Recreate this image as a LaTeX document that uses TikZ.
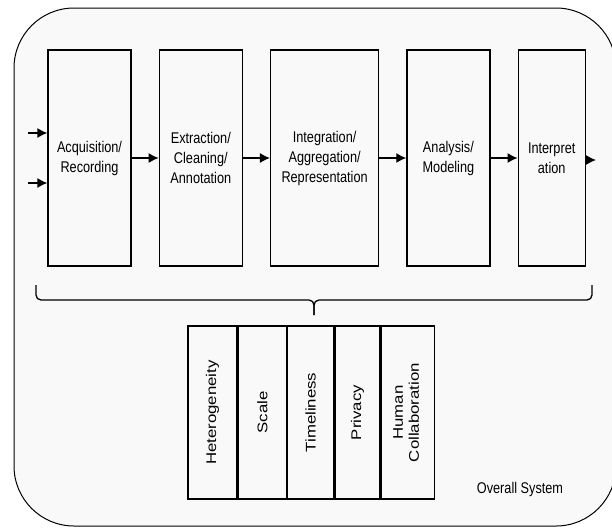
\documentclass[tikz,border=0pt]{standalone}
\usepackage{fontspec}
\setmainfont{Liberation Sans}
\newfontfamily\stagefont[FakeStretch=0.82]{Liberation Sans}
\newfontfamily\issuefont[FakeStretch=1.2]{Liberation Sans}
\usepackage{tikz}
\usetikzlibrary{positioning, arrows, arrows.meta}

\begin{document}
\begin{tikzpicture}[
		x=1pt, y=-1pt,
		every node/.style={font=\stagefont\fontsize{15.5}{20}\selectfont, inner sep=0pt},
		stage/.style={draw, line width=1.3pt, minimum height=216pt, align=center},
		issue/.style={draw, line width=1.3pt, minimum height=173pt, font=\issuefont\fontsize{14}{16}\selectfont},
		flow/.style={draw, line width=1.3pt, -{Latex[length=10pt, width=10pt]}}
	]
	\useasboundingbox (0,0) rectangle (612,528);

	% Overall system frame
	\draw[fill=gray!5, line width=1pt, rounded corners=60pt] (14,8) rectangle (616,526);

	\node[stage, minimum width=83pt] (Acquisition) at (89.5,158) {Acquisition/\\Recording};
	\node[stage, minimum width=83pt, right=27pt of Acquisition] (Extraction) {Extraction/\\Cleaning/\\Annotation};
	\node[stage, minimum width=108pt, right=27pt of Extraction] (Integration) {Integration/\\Aggregation/\\Representation};
	\node[stage, minimum width=83pt, right=27pt of Integration] (Analysis) {Analysis/\\Modeling};
	\node[stage, minimum width=67pt, right=27pt of Analysis] (Interpretation) {Interpret\\ation};

	\coordinate (InA) at (28,133);
	\coordinate (InB) at (28,183);
	\coordinate (Out) at (596,160);

	% Add arrows for the pipeline
	\draw[flow] (InA) -- (InA -| Acquisition.west);
	\draw[flow] (InB) -- (InB -| Acquisition.west);
	\draw[flow] (Acquisition) -- (Extraction);
	\draw[flow] (Extraction) -- (Integration);
	\draw[flow] (Integration) -- (Analysis);
	\draw[flow] (Analysis) -- (Interpretation);
	\draw[flow] (Interpretation.east |- Out) -- (Out);

	% Brace over the challenges
	\coordinate (BraceL) at (36,285);
	\coordinate (BraceR) at (592,285);
	\coordinate (BraceTip) at (314,315);
	\draw[line width=1.3pt, rounded corners=5pt] (BraceL) -- (36,300) -- (314,300) -- (BraceTip);
	\draw[line width=1.3pt, rounded corners=5pt] (BraceR) -- (592,300) -- (314,300) -- (BraceTip);

	\node[issue, minimum width=49pt] (Heterogeneity) at (212.5,412.5) {\rotatebox{90}{Heterogeneity}};
	\node[issue, minimum width=48pt, right=0pt of Heterogeneity] (Scale) {\rotatebox{90}{Scale}};
	\node[issue, minimum width=46pt, right=0pt of Scale] (Timeliness) {\rotatebox{90}{Timeliness}};
	\node[issue, minimum width=45pt, right=0pt of Timeliness] (Privacy) {\rotatebox{90}{Privacy}};
	\node[issue, minimum width=53pt, right=0pt of Privacy] (Human) {\rotatebox{90}{\begin{tabular}{@{}c@{}}Human\\Collaboration\end{tabular}}};

	\node (System) at (520,489) {Overall System};

\end{tikzpicture}
\end{document}
